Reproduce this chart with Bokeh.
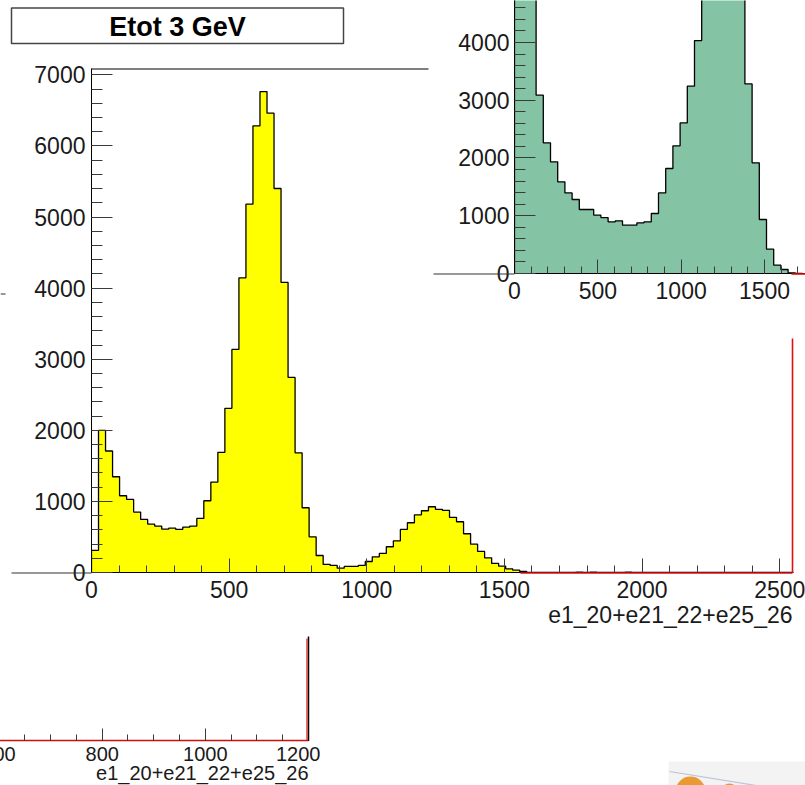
import numpy as np
from bokeh.plotting import figure
from bokeh.models import Range1d, SingleIntervalTicker, Column
from bokeh.embed import file_html
from bokeh.resources import INLINE
from bokeh.core.properties import value

# ---------------------------------------------------------------- data
# Etot = e1_20+e21_22+e25_26, 100 bins between 0 and 2550
etot_lo, etot_hi, etot_nbins = 0.0, 2550.0, 100
etot_counts = [
    310, 2000, 1709, 1347, 1080, 1028, 850, 746, 681, 653,
    610, 624, 606, 638, 653, 760, 1009, 1272, 1690, 2310,
    3138, 4145, 5181, 6283, 6766, 6461, 5402, 4080, 2744, 1684,
    911, 502, 239, 113, 99, 61, 85, 85, 99, 155,
    221, 268, 362, 446, 606, 700, 812, 869, 925, 887,
    873, 775, 714, 545, 399, 296, 207, 127, 89, 52,
    33, 14, 0, 0, 0, 0, 0, 0, 0, 6,
    0, 4, 0, 0, 0, 0, 5, 0, 0, 0,
    0, 0, 0, 0, 0, 0, 0, 0, 0, 0,
    0, 0, 0, 0, 0, 0, 0, 0, 0, 0,
]

# second Etot distribution shown in the upper-right pad, bins of 43.2
inset_lo, inset_binw = 0.0, 43.2
inset_counts = [
    5600, 7400, 5300, 3087, 2262, 1933, 1587, 1396, 1281, 1108,
    1108, 1010, 969, 894, 912, 837, 837, 877, 894, 1039,
    1396, 1818, 2210, 2608, 3243, 4033, 5000, 5900, 6500, 6600,
    6000, 4900, 3283, 1916, 935, 421, 144, 69, 12, 0,
]

title_text = "Etot 3 GeV"
x_title = "e1_20+e21_22+e25_26"

FONT = "Liberation Sans"
W, H = 805, 785
# every pad in the column shares the same side borders
BL, BR = 91, 12


def step_outline(edges, counts):
    xs, ys = [edges[0]], [0]
    for i, c in enumerate(counts):
        xs += [edges[i], edges[i + 1]]
        ys += [c, c]
    xs.append(edges[-1])
    ys.append(0)
    return xs, ys


def placed(left, top):
    return {"position": "absolute", "left": f"{left}px", "top": f"{top}px"}


def pad(width, height, xr, yr, top, bottom, left, top_px, **kw):
    return figure(width=width, height=height, x_range=xr, y_range=yr,
                  output_backend="svg", toolbar_location=None,
                  min_border_left=BL, min_border_right=BR,
                  min_border_top=top, min_border_bottom=bottom,
                  background_fill_alpha=0, border_fill_alpha=0, outline_line_color=None,
                  styles=placed(left, top_px), **kw)


def overlay(x0, x1):
    """Transparent pad whose frame spans canvas pixels x0..x1, y 0..H (y down)."""
    p = pad(BL + (x1 - x0) + BR, H, Range1d(x0, x1), Range1d(H, 0), 0, 0, x0 - BL, 0,
            x_axis_type=None, y_axis_type=None)
    p.grid.visible = False
    return p


def style_axes(p, xint, xminor, yint, yminor, xtick, ytick, size, xstand, ystand):
    xa, ya = p.xaxis[0], p.yaxis[0]
    xa.ticker = SingleIntervalTicker(interval=xint, num_minor_ticks=xminor)
    ya.ticker = SingleIntervalTicker(interval=yint, num_minor_ticks=yminor)
    for ax, (tin, tmin), stand in ((xa, xtick, xstand), (ya, ytick, ystand)):
        ax.major_tick_in = tin
        ax.major_tick_out = 0
        ax.minor_tick_in = tmin
        ax.minor_tick_out = 0
        ax.major_tick_line_color = "#3a3a3a"
        ax.minor_tick_line_color = "#3a3a3a"
        ax.axis_line_color = "black"
        ax.major_label_text_font = FONT
        ax.major_label_text_font_size = size
        ax.major_label_text_color = "#1a1a1a"
        ax.major_label_standoff = stand
    p.grid.visible = False


# ------------------------------------------------ pad partly hidden below
b = pad(328 + BL + BR, 185, Range1d(564, 1200), Range1d(0, 1), 36, 45, -20 - BL, 600)
style_axes(b, 200, 4, 1, 2, (12, 6), (0, 0), "20px", 6, 3)
b.yaxis.visible = False
b.xaxis.axis_line_color = "#cc1010"
b.xaxis.axis_line_width = 1.5

# ------------------------------------------------------------ main pad
edges = np.linspace(etot_lo, etot_hi, etot_nbins + 1)
m = pad(W, H, Range1d(etot_lo, etot_hi), Range1d(0, 7090), 68, 213, 0, 0)
mx, my = step_outline(edges, etot_counts)
m.patch(mx, my, fill_color="#ffff00", line_color=None)
m.line(mx, my, line_color="black", line_width=1.3)
style_axes(m, 500, 5, 1000, 5, (14, 7), (21, 11), "23px", 8, 6)

# ------------------------------------------------------- upper-right pad
iedges = inset_lo + inset_binw * np.arange(len(inset_counts) + 1)
g = pad(291 + BL + BR, 310, Range1d(0, 1746), Range1d(0, 4727), 0, 37, 514 - BL, 0)
gx, gy = step_outline(iedges, inset_counts)
g.patch(gx, gy, fill_color="#84c4a5", line_color=None)
g.line(gx, gy, line_color="black", line_width=1.3)
style_axes(g, 500, 5, 1000, 5, (14, 7), (21, 11), "23px", 8, 5)

# ------------------------------------------- left overlay: title and frames
fl = overlay(0, 700)
fl.quad(left=11, right=343, top=7.5, bottom=43, fill_color="white",
        line_color="#444444", line_width=1.5)
fl.text(x=[177], y=[26], text=[title_text], text_font=value(FONT),
        text_font_size="27px", text_font_style="bold", text_color="black",
        text_align="center", text_baseline="middle")
fl.segment(x0=[91], y0=[68.5], x1=[428], y1=[68.5], line_color="black", line_width=1.2)
fl.segment(x0=[11, 433, 0], y0=[572.5, 273.5, 293.5], x1=[91, 514, 5], y1=[572.5, 273.5, 293.5],
           line_color="#333333", line_width=1.2)
fl.segment(x0=[308], y0=[636], x1=[308], y1=[740.5], line_color="black", line_width=1.5)
fl.segment(x0=[306.5], y0=[638], x1=[306.5], y1=[740.5], line_color="#dd1010", line_width=1.2)
fl.text(x=[308], y=[772], text=[x_title], text_font=value(FONT), text_font_size="20px",
        text_color="#1a1a1a", text_align="right", text_baseline="middle")

# ------------------------------------- right overlay: red frame, axis title
fr = overlay(500, W)
fr.segment(x0=[520, 792, 791], y0=[572.5, 338, 273.5], x1=[792, 792, W], y1=[572.5, 572.5, 273.5],
           line_color="#dd1010", line_width=1.6)
fr.text(x=[792], y=[614], text=[x_title], text_font=value(FONT), text_font_size="23px",
        text_color="#1a1a1a", text_align="right", text_baseline="middle")
# corner icon
fr.quad(left=668, right=W, top=761, bottom=H, fill_color="#f3f3f3", line_color=None)
fr.line([669, W], [771, 793], line_color="#b9c3da", line_width=1.2)
fr.circle(x=[690, 729], y=[791, 792], radius=[15, 9], fill_color="#e99a32", line_color=None)

root = Column(children=[b, m, g, fl, fr], width=W, height=H,
              styles={"position": "relative", "width": f"{W}px", "height": f"{H}px",
                      "overflow": "hidden"})

open("out.html", "w").write(file_html(root, INLINE))
